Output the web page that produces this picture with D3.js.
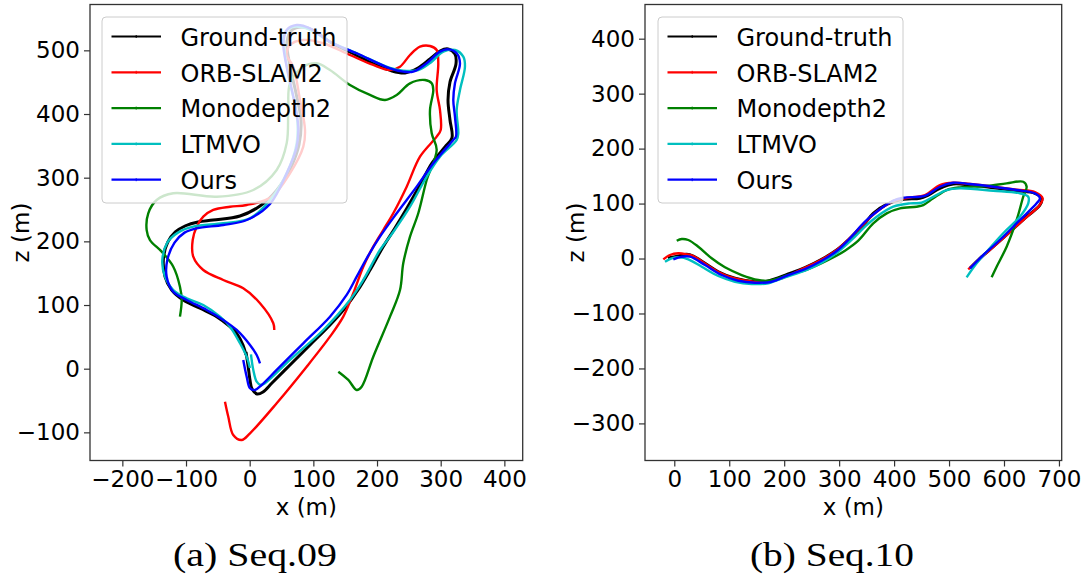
<!DOCTYPE html>
<html>
<head>
<meta charset="utf-8">
<script src="https://cdn.jsdelivr.net/npm/d3@7"></script>
<style>
  html, body { margin: 0; padding: 0; background: #fff; }
  svg { display: block; }
</style>
</head>
<body>
<svg id="chart" width="1088" height="579"></svg>
<script>
// ---------------- DATA ----------------
const seriesNames = ["Ground-truth", "ORB-SLAM2", "Monodepth2", "LTMVO", "Ours"];
const seriesColors = ["#000000", "#ff0000", "#008000", "#00bfbf", "#0000ff"];

const xTicks09 = [-200, -100, 0, 100, 200, 300, 400];
const xTickLabels09 = ["\u2212200", "\u2212100", "0", "100", "200", "300", "400"];
const zTicks09 = [-100, 0, 100, 200, 300, 400, 500];
const zTickLabels09 = ["\u2212100", "0", "100", "200", "300", "400", "500"];

const xTicks10 = [0, 100, 200, 300, 400, 500, 600, 700];
const xTickLabels10 = ["0", "100", "200", "300", "400", "500", "600", "700"];
const zTicks10 = [-300, -200, -100, 0, 100, 200, 300, 400];
const zTickLabels10 = ["\u2212300", "\u2212200", "\u2212100", "0", "100", "200", "300", "400"];

const captions = ["(a) Seq.09", "(b) Seq.10"];

// Seq.09 trajectories [x, z] in metres
const seq09_gt = [[-5.8,26.2],[-2.7,5.8],[0.5,-17.7],[3.6,-31.6],[11.5,-39.7],[20.9,-36.6],[35.0,-22.5],[63.3,5.8],[94.7,37.2],[126.1,68.6],[149.7,95.3],[170.1,123.6],[189.0,155.0],[209.4,191.2],[228.2,221.0],[247.1,252.4],[267.5,288.5],[286.3,323.1],[306.7,348.2],[317.7,362.4],[314.6,390.6],[311.5,422.0],[314.6,450.3],[324.0,478.6],[322.4,494.3],[311.5,502.2],[298.9,499.0],[283.2,486.5],[264.3,472.3],[243.9,464.5],[223.5,467.6],[196.8,478.6],[160.7,495.9],[126.1,513.2],[104.1,528.9],[83.7,536.7],[66.4,532.0],[58.6,513.2],[63.3,475.5],[72.7,433.1],[80.6,390.6],[77.4,351.4],[64.9,316.8],[42.9,280.7],[16.2,255.5],[-15.2,239.8],[-57.6,233.5],[-81.2,230.4],[-100.8,224.5],[-116.7,214.8],[-128.8,198.5],[-135.2,175.9],[-133.0,144.5],[-122.5,123.6],[-104.3,107.9],[-78.1,94.9],[-51.8,81.7],[-30.9,66.0],[-20.4,55.6],[-10.5,37.2],[-5.8,21.5]];
const seq09_orb = [[-38.8,-51.8],[-33.6,-75.4],[-25.8,-104.1],[-12.6,-112.0],[0.5,-101.5],[42.4,-54.3],[89.5,3.1],[126.1,50.3],[147.0,81.7],[162.7,118.4],[178.4,160.2],[194.1,191.6],[209.8,217.8],[225.5,244.1],[246.6,285.9],[267.5,333.0],[293.7,364.4],[300.0,374.9],[298.9,406.3],[293.7,437.7],[296.2,479.7],[293.7,500.5],[283.2,506.8],[267.5,505.7],[251.8,492.7],[236.1,474.3],[220.4,469.1],[194.1,477.0],[157.5,492.7],[115.6,511.1],[84.2,516.3],[63.3,508.4],[58.1,492.7],[68.5,474.3],[79.0,422.0],[86.9,374.9],[84.2,348.7],[63.3,306.9],[34.6,270.1],[-4.7,257.1],[-30.9,254.4],[-57.2,249.3],[-72.9,238.7],[-83.2,223.0],[-89.5,202.1],[-88.6,175.9],[-72.9,155.0],[-41.5,139.3],[-10.1,126.3],[16.2,102.7],[37.1,71.3],[38.6,60.8]];
const seq09_mono = [[139.2,-4.7],[154.9,-17.7],[168.1,-33.5],[175.9,-28.3],[194.1,18.8],[220.4,81.7],[236.1,123.6],[241.2,165.5],[251.8,207.3],[264.8,244.1],[278.0,296.4],[293.7,343.5],[285.9,369.7],[283.2,406.3],[288.4,437.7],[285.9,448.2],[275.3,453.4],[251.8,448.2],[230.9,429.9],[212.5,422.0],[188.9,429.9],[157.5,445.6],[126.1,469.1],[105.2,479.7],[84.2,474.3],[63.3,448.2],[60.6,406.3],[58.1,354.0],[42.4,312.1],[5.7,280.7],[-51.8,270.1],[-120.0,275.5],[-146.1,265.0],[-159.3,244.1],[-161.8,217.8],[-156.6,202.1],[-138.2,183.8],[-120.0,160.2],[-109.5,128.8],[-106.8,107.9],[-109.5,81.7]];
const seq09_ltmvo = [[2.0,22.6],[5.7,-2.0],[11.0,-20.4],[17.3,-25.6],[24.0,-22.9],[63.3,13.7],[115.6,60.8],[157.5,107.9],[178.4,139.3],[204.6,186.4],[225.5,214.7],[251.8,254.4],[278.0,301.6],[298.9,333.0],[325.1,359.2],[327.6,369.7],[325.1,406.3],[330.3,437.7],[338.1,474.3],[335.5,490.0],[322.4,500.5],[304.1,497.9],[285.9,482.2],[264.8,469.1],[241.2,468.0],[220.4,472.3],[168.1,495.4],[126.1,513.6],[89.5,534.6],[66.0,536.2],[55.4,526.8],[55.4,495.4],[63.3,448.2],[73.8,401.1],[73.8,354.0],[58.1,306.9],[31.9,265.0],[0.5,236.2],[-41.5,228.4],[-88.6,223.0],[-112.7,213.7],[-129.4,197.9],[-137.2,170.7],[-133.0,144.5],[-120.0,123.6],[-98.9,110.6],[-72.9,100.0],[-46.6,81.7],[-30.9,66.0],[-15.2,39.9],[-4.7,18.8],[0.5,1.1]];
const seq09_ours = [[-10.1,13.7],[-4.7,-12.6],[0.5,-30.8],[8.3,-33.5],[18.8,-25.6],[42.4,-2.0],[84.2,39.9],[126.1,81.7],[152.3,115.8],[168.1,144.5],[183.8,173.4],[204.6,207.3],[230.9,244.1],[262.3,285.9],[288.4,322.6],[319.8,359.2],[324.0,364.4],[322.4,395.8],[319.8,422.0],[322.4,448.2],[330.3,479.7],[325.1,495.4],[311.9,501.6],[298.9,497.9],[278.0,479.7],[257.0,466.5],[241.2,466.5],[220.4,471.8],[168.1,495.4],[126.1,513.6],[94.7,534.6],[73.8,539.8],[58.1,532.0],[52.8,511.1],[58.1,474.3],[68.5,427.2],[76.3,380.1],[73.8,348.7],[58.1,306.9],[31.9,258.7],[-4.7,233.5],[-41.5,225.7],[-83.2,220.5],[-102.3,213.7],[-118.0,197.9],[-129.4,170.7],[-130.4,144.5],[-120.0,120.9],[-98.9,107.9],[-67.5,92.2],[-41.5,76.5],[-20.4,60.8],[0.5,37.2],[11.0,21.5],[16.2,8.5]];

// Seq.10 trajectories [x, z] in metres
const seq10_gt = [[-11.5,0.9],[7.3,4.5],[22.6,7.6],[34.6,4.5],[55.9,-8.7],[80.1,-24.0],[110.4,-36.0],[146.8,-42.2],[171.0,-40.9],[207.4,-28.2],[237.7,-16.7],[268.2,-1.5],[295.5,15.5],[316.6,33.7],[334.8,51.9],[347.0,64.0],[362.1,82.2],[386.5,98.6],[416.7,107.7],[447.0,109.5],[462.2,115.5],[483.4,127.7],[507.6,135.6],[538.0,133.7],[580.4,128.8],[623.0,123.4],[656.3,118.6],[668.5,109.5],[665.4,97.3],[641.2,76.1],[610.8,48.8],[580.4,21.5],[556.2,0.4],[538.0,-17.8]];
const seq10_orb = [[-20.0,-1.5],[-7.8,6.4],[7.3,9.5],[22.6,7.6],[34.6,4.5],[55.9,-9.1],[80.1,-24.6],[110.4,-36.4],[146.8,-42.8],[171.0,-42.2],[195.4,-36.0],[228.7,-20.9],[268.2,-1.8],[295.5,15.5],[316.6,34.6],[347.0,65.5],[368.3,85.2],[398.5,104.6],[428.8,111.0],[456.2,115.5],[483.4,133.7],[507.6,137.9],[538.0,135.6],[580.4,130.6],[623.0,125.2],[656.3,121.0],[670.3,109.5],[663.6,95.5],[641.2,75.5],[610.8,48.2],[580.4,20.9],[556.2,0.0],[534.9,-19.7]];
const seq10_mono = [[4.4,32.4],[13.5,35.5],[25.5,33.7],[43.7,21.5],[68.0,0.4],[92.2,-16.0],[122.6,-30.0],[152.8,-39.1],[171.0,-40.4],[207.4,-30.0],[243.8,-19.1],[280.2,-2.7],[310.6,14.2],[334.8,32.4],[362.1,64.0],[386.5,82.2],[410.7,91.3],[441.0,94.3],[453.1,97.3],[471.3,109.5],[495.6,124.6],[519.8,129.5],[568.4,131.9],[604.8,136.8],[635.0,139.7],[641.2,130.6],[635.0,112.4],[623.0,70.1],[604.8,21.5],[586.6,-14.9],[577.5,-34.2]];
const seq10_ltmvo = [[-16.9,-5.8],[-4.7,0.4],[10.4,2.2],[25.5,-1.5],[49.9,-14.9],[80.1,-31.8],[110.4,-42.2],[140.8,-46.4],[171.0,-45.1],[201.4,-34.2],[237.7,-22.2],[268.2,-7.6],[298.4,12.4],[328.8,39.7],[347.0,57.9],[368.3,76.1],[398.5,94.3],[428.8,100.4],[450.1,101.5],[471.3,112.4],[495.6,124.6],[519.8,127.7],[580.4,123.4],[628.9,118.6],[644.1,112.4],[644.1,100.4],[628.9,76.1],[598.6,45.9],[568.4,12.4],[550.2,-8.7],[532.0,-34.2]];
const seq10_ours = [[-1.8,-1.5],[13.5,3.3],[28.6,3.3],[55.9,-11.8],[86.2,-30.0],[116.4,-40.4],[146.8,-44.0],[177.2,-42.2],[207.4,-30.0],[237.7,-19.1],[268.2,-4.0],[295.5,13.6],[316.6,33.7],[347.0,67.0],[368.3,85.2],[398.5,105.2],[416.7,110.6],[447.0,112.4],[459.2,115.5],[483.4,130.6],[507.6,137.9],[538.0,135.6],[580.4,130.6],[623.0,124.6],[656.3,118.6],[665.4,109.5],[659.4,100.4],[629.0,70.1],[592.6,33.7],[562.2,6.4],[538.0,-17.8]];

// ---------------- LAYOUT ----------------
const panels = [
  {
    box: {x0: 90, x1: 522.7, y0: 4.5, y1: 460.5},
    xDomain: [-250.8, 428.8], zDomain: [-144.2, 572],
    xTicks: xTicks09, xTickLabels: xTickLabels09,
    zTicks: zTicks09, zTickLabels: zTickLabels09,
    series: [seq09_gt, seq09_orb, seq09_mono, seq09_ltmvo, seq09_ours],
    legend: {x: 102, y: 17, w: 245, h: 186},
    zLabelX: 29, caption: captions[0], captionX: 255
  },
  {
    box: {x0: 645, x1: 1061.7, y0: 4.5, y1: 460.5},
    xDomain: [-53.3, 705], zDomain: [-367.5, 462.2],
    xTicks: xTicks10, xTickLabels: xTickLabels10,
    zTicks: zTicks10, zTickLabels: zTickLabels10,
    series: [seq10_gt, seq10_orb, seq10_mono, seq10_ltmvo, seq10_ours],
    legend: {x: 658, y: 17, w: 245, h: 186},
    zLabelX: 584, caption: captions[1], captionX: 832
  }
];

const svg = d3.select("#chart");
svg.append("rect").attr("width", 1088).attr("height", 579).attr("fill", "#fff");
const FONT = "'DejaVu Sans', sans-serif";

panels.forEach((p, pi) => {
  const b = p.box;
  const x = d3.scaleLinear().domain(p.xDomain).range([b.x0, b.x1]);
  const y = d3.scaleLinear().domain(p.zDomain).range([b.y1, b.y0]);
  const g = svg.append("g");

  const clipId = "clip" + pi;
  svg.append("clipPath").attr("id", clipId)
    .append("rect").attr("x", b.x0).attr("y", b.y0)
    .attr("width", b.x1 - b.x0).attr("height", b.y1 - b.y0);

  const line = d3.line().x(d => x(d[0])).y(d => y(d[1])).curve(d3.curveCatmullRom.alpha(0.5));
  const plot = g.append("g").attr("clip-path", `url(#${clipId})`);
  p.series.forEach((s, i) => {
    plot.append("path").datum(s)
      .attr("d", line)
      .attr("fill", "none")
      .attr("stroke", seriesColors[i])
      .attr("stroke-width", i === 0 ? 3 : 2.4)
      .attr("stroke-linejoin", "round")
      .attr("stroke-linecap", "butt");
  });

  // axes
  const xAxis = d3.axisBottom(x).tickValues(p.xTicks)
    .tickFormat((d, i) => p.xTickLabels[i]).tickSize(6).tickPadding(4);
  const gx = g.append("g").attr("transform", `translate(0,${b.y1})`).call(xAxis);
  const yAxis = d3.axisLeft(y).tickValues(p.zTicks)
    .tickFormat((d, i) => p.zTickLabels[i]).tickSize(6).tickPadding(4);
  const gy = g.append("g").attr("transform", `translate(${b.x0},0)`).call(yAxis);
  [gx, gy].forEach(a => {
    a.select(".domain").remove();
    a.selectAll(".tick line").attr("stroke", "#333").attr("stroke-width", 1.2);
    a.selectAll(".tick text").attr("font-family", FONT).attr("font-size", 23).attr("fill", "#000");
  });

  // frame
  g.append("rect").attr("x", b.x0).attr("y", b.y0)
    .attr("width", b.x1 - b.x0).attr("height", b.y1 - b.y0)
    .attr("fill", "none").attr("stroke", "#333").attr("stroke-width", 1.3);

  // axis labels
  g.append("text").attr("x", (b.x0 + b.x1) / 2).attr("y", 515)
    .attr("text-anchor", "middle").attr("font-family", FONT).attr("font-size", 23)
    .text("x (m)");
  g.append("text").attr("transform", `translate(${p.zLabelX},${(b.y0 + b.y1) / 2}) rotate(-90)`)
    .attr("text-anchor", "middle").attr("font-family", FONT).attr("font-size", 23)
    .text("z (m)");

  // legend
  const L = p.legend;
  const lg = g.append("g");
  lg.append("rect").attr("x", L.x).attr("y", L.y).attr("width", L.w).attr("height", L.h)
    .attr("rx", 4).attr("fill", "#fff").attr("fill-opacity", 0.8)
    .attr("stroke", "#cccccc").attr("stroke-width", 1);
  seriesNames.forEach((name, i) => {
    const cy = L.y + 19.5 + i * 35.8;
    lg.append("line").attr("x1", L.x + 9.5).attr("x2", L.x + 59)
      .attr("y1", cy).attr("y2", cy)
      .attr("stroke", seriesColors[i]).attr("stroke-width", 2.2);
    lg.append("line").attr("x1", L.x + 34.2).attr("x2", L.x + 34.2)
      .attr("y1", cy - 1.5).attr("y2", cy + 1.5)
      .attr("stroke", seriesColors[i]).attr("stroke-width", 1);
    lg.append("text").attr("x", L.x + 78.5).attr("y", cy + 9.3)
      .attr("font-family", FONT).attr("font-size", 24).attr("fill", "#000")
      .text(name);
  });

  // caption
  svg.append("text").attr("x", p.captionX).attr("y", 566)
    .attr("text-anchor", "middle")
    .attr("font-family", "'Liberation Serif', serif")
    .attr("font-size", 34)
    .attr("textLength", 164).attr("lengthAdjust", "spacingAndGlyphs")
    .text(p.caption);
});
</script>
</body>
</html>
